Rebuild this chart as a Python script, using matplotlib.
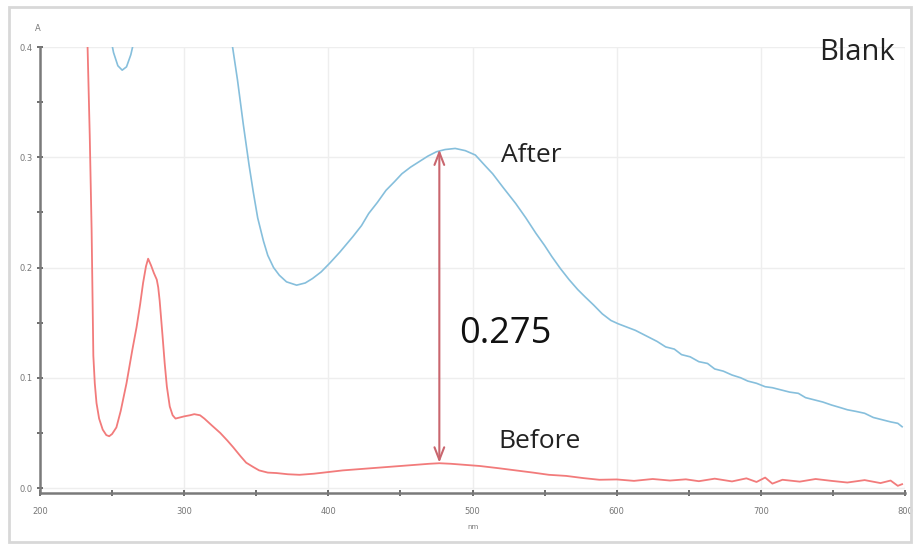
import matplotlib
matplotlib.use("Agg")
import matplotlib.pyplot as plt
from matplotlib.patches import Rectangle
import numpy as np

# absorbance spectra (nm, A)
before_nm = [231, 233, 234.5, 235.8, 237, 238, 239.2, 241, 243.5, 246, 248, 250, 253, 256, 260, 264, 267, 269.5, 271.5, 273.5, 275,
             277, 279, 281, 282, 283, 285, 286.5, 288, 290, 292, 294, 297, 300, 304, 307, 311, 314, 319, 325,
             330, 334, 339, 343, 348, 352, 358, 364, 372, 380, 390, 400, 410, 420, 430,
             440, 450, 460, 470, 477, 485, 495, 505, 518, 530, 542, 553, 565, 577, 588,
             600, 612, 625, 637, 648, 657, 668, 680, 690, 697, 703, 708, 715, 727, 738,
             749, 760, 772, 783, 790, 795, 798]
before_a = [0.45, 0.40, 0.32, 0.234, 0.12, 0.095, 0.077, 0.063, 0.053, 0.048, 0.047, 0.049, 0.055, 0.070, 0.095, 0.125, 0.146, 0.167, 0.186, 0.201, 0.208,
            0.202, 0.195, 0.189, 0.182, 0.170, 0.138, 0.113, 0.092, 0.074, 0.066, 0.063, 0.064, 0.065, 0.066, 0.067, 0.066, 0.063, 0.057, 0.050,
            0.043, 0.037, 0.029, 0.023, 0.019, 0.016, 0.014, 0.0136, 0.0125, 0.012, 0.013, 0.0145, 0.016, 0.017, 0.018,
            0.019, 0.020, 0.021, 0.022, 0.0225, 0.022, 0.021, 0.020, 0.018, 0.016, 0.014, 0.012, 0.011, 0.009, 0.0075,
            0.0078, 0.0065, 0.0082, 0.0068, 0.0079, 0.0062, 0.0085, 0.0060, 0.0088, 0.0055, 0.0095, 0.0040, 0.0075, 0.0058, 0.0082,
            0.0065, 0.0050, 0.0072, 0.0045, 0.0068, 0.0020, 0.0035]

after_nm = [243, 248, 251, 254, 257, 260, 263, 266, 270, 290, 320, 333, 337, 341, 345, 348,
            351, 355, 358, 362, 366, 371, 378, 384, 389, 395, 401, 408, 417, 423, 428, 434,
            440, 446, 451, 457, 463, 469, 475, 481, 488, 495, 502, 509, 514, 521, 530, 537,
            544, 550, 555, 561, 567, 573, 578, 584, 590, 596, 601, 607, 613, 622, 628, 634, 640, 645,
            651, 657, 663, 668, 674, 680, 686, 691, 697, 703, 708, 714, 720, 726, 731, 737, 743, 749, 755, 760,
            766, 772, 778, 784, 790, 795, 798]
after_a = [0.46, 0.415, 0.395, 0.383, 0.379, 0.382, 0.393, 0.41, 0.45, 0.60, 0.55, 0.405, 0.370, 0.330, 0.293, 0.268,
           0.245, 0.224, 0.211, 0.200, 0.193, 0.187, 0.184, 0.186, 0.190, 0.196, 0.204, 0.214, 0.228, 0.238, 0.249, 0.259,
           0.270, 0.278, 0.285, 0.291, 0.296, 0.301, 0.305, 0.307, 0.308, 0.306, 0.302, 0.292, 0.285, 0.273, 0.258, 0.245,
           0.231, 0.220, 0.210, 0.199, 0.189, 0.180, 0.1735, 0.166, 0.158, 0.152, 0.149, 0.146, 0.143, 0.137, 0.133, 0.128, 0.126, 0.121,
           0.119, 0.1146, 0.113, 0.108, 0.106, 0.1025, 0.100, 0.097, 0.095, 0.0919, 0.091, 0.089, 0.087, 0.0859, 0.082, 0.080, 0.078, 0.0753, 0.073, 0.071,
           0.0695, 0.0678, 0.064, 0.062, 0.0600, 0.0587, 0.0556]

diff_x = 477
diff_lo = 0.023
diff_hi = 0.307

red = "#f27b7b"
blue = "#86bfdc"

fig = plt.figure(figsize=(9.18, 5.47), dpi=100)
ax = fig.add_axes([40 / 918, 54 / 547, 865 / 918, 446 / 547])

ax.plot(before_nm, before_a, color=red, lw=1.3, zorder=3)
ax.plot(after_nm, after_a, color=blue, lw=1.2, zorder=3)

ax.set_xlim(200, 800)
ax.set_ylim(-0.0045, 0.4)

ax.set_xticks(np.arange(200, 801, 100))
ax.set_xticks(np.arange(250, 800, 100), minor=True)
ax.set_yticks([0.0, 0.1, 0.2, 0.3, 0.4])
ax.set_yticklabels(["0.0", "0.1", "0.2", "0.3", "0.4"])
ax.set_yticks([0.05, 0.15, 0.25, 0.35], minor=True)

ax.tick_params(which="both", direction="inout", length=4, width=1.2, color="#555555",
               labelsize=6, labelcolor="#777777", pad=3)
ax.tick_params(axis="x", which="major", pad=8)

for s in ["top", "right"]:
    ax.spines[s].set_visible(False)
for s in ["left", "bottom"]:
    ax.spines[s].set_color("#7a7a7a")
    ax.spines[s].set_linewidth(1.8)

ax.grid(True, which="major", color="#eeeeee", lw=1)
ax.set_axisbelow(True)

ax.text(-0.003, 1.035, "A", transform=ax.transAxes, fontsize=6, color="#777777", ha="center")
ax.set_xlabel("nm", fontsize=5, color="#777777", labelpad=6)

ax.annotate("", xy=(diff_x, diff_hi), xytext=(diff_x, diff_lo),
            arrowprops=dict(arrowstyle="<->,head_length=0.9,head_width=0.35",
                            color="#c9666e", lw=1.5, shrinkA=0, shrinkB=0), zorder=4)

font = "Open Sans"
ax.text(519.5, 0.302, "After", fontsize=19, family=font, color="#222222", ha="left", va="center")
ax.text(518, 0.0425, "Before", fontsize=19, family=font, color="#222222", ha="left", va="center")
ax.text(490.5, 0.140, "0.275", fontsize=26, family=font, color="#111111", ha="left", va="center")
ax.text(793, 0.395, "Blank", fontsize=21, family=font, color="#222222", ha="right", va="center")

fig.patches.append(Rectangle((9 / 918, 5 / 547), 902 / 918, 535 / 547, transform=fig.transFigure,
                             fill=False, edgecolor="#d8d8d8", lw=2))

fig.savefig("out.png", dpi=100)
